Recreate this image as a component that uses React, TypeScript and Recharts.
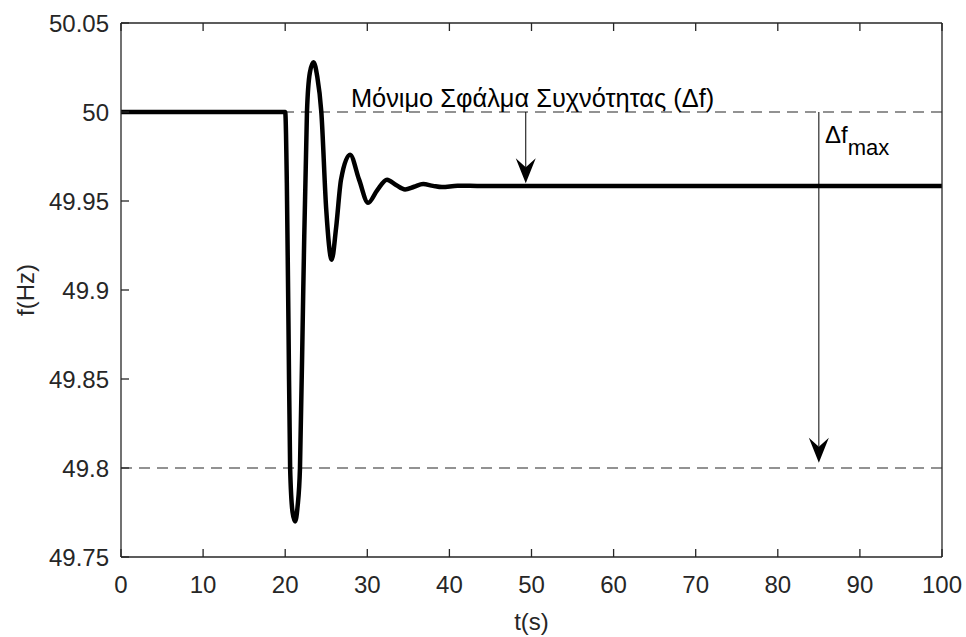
import React from 'react';
import { LineChart, Line, XAxis, YAxis, ReferenceLine, ReferenceDot, Label } from 'recharts';

// frequency response
const timeS = [
    0, 20, 20.2, 20.4, 20.6, 20.9, 21.2, 21.5, 21.8, 22.2, 22.65, 23.0, 23.45, 23.9, 24.4,
    25.0, 25.66, 26.2, 26.8, 27.9, 29.0, 30.1, 31.2, 32.4, 33.5, 34.6, 35.7, 36.8, 38.0,
    39.1, 41, 44, 100,
];
const freqHz = [
    50, 50, 49.96, 49.88, 49.8, 49.775, 49.77, 49.778, 49.8, 49.9, 50.0, 50.022, 50.028,
    50.02, 50.0, 49.945, 49.917, 49.935, 49.962, 49.976, 49.962, 49.949, 49.956, 49.962,
    49.959, 49.9565, 49.958, 49.9595, 49.9585, 49.9578, 49.9586, 49.9584, 49.9584,
];

const xTicks = [0, 10, 20, 30, 40, 50, 60, 70, 80, 90, 100];
const yTicks = [49.75, 49.8, 49.85, 49.9, 49.95, 50, 50.05];

const nominalF = 50;
const limitF = 49.8;
const steadyArrowT = 49.3;
const steadyArrowTip = 49.96;
const maxArrowT = 85;
const maxArrowTip = 49.803;

const data = timeS.map((t, i) => ({ t, f: freqHz[i] }));

const axisColor = '#262626';
const tickStyle = { fill: axisColor, fontSize: 24 };

const ArrowShape = (p: any) => {
    const { x1, y1, x2, y2 } = p;
    const len = 25;
    const half = 10;
    const notch = 9;
    return (
        <g>
            <line x1={x1} y1={y1} x2={x2} y2={y2 - len + notch} stroke="#000" strokeWidth={1} />
            <polygon
                points={`${x2},${y2} ${x2 - half},${y2 - len} ${x2},${y2 - len + notch} ${x2 + half},${y2 - len}`}
                fill="#000"
            />
        </g>
    );
};

const App: React.FC = () => {
    return (
        <div style={{ position: 'absolute', left: 0, top: 0, fontFamily: '"Liberation Sans", Arial, sans-serif' }}>
            <LineChart width={966} height={637} data={data} margin={{ top: 22, right: 23, left: 0, bottom: 0 }}>
                <XAxis
                    dataKey="t"
                    type="number"
                    domain={[0, 100]}
                    ticks={xTicks}
                    allowDataOverflow
                    height={80}
                    tickSize={-8}
                    tickMargin={27}
                    tick={tickStyle}
                    axisLine={{ stroke: axisColor, strokeWidth: 1.3 }}
                    tickLine={{ stroke: axisColor, strokeWidth: 1.3 }}
                >
                    <Label value="t(s)" position="insideBottom" offset={7} style={{ fill: axisColor, fontSize: 24 }} />
                </XAxis>
                <XAxis
                    xAxisId="top"
                    orientation="top"
                    dataKey="t"
                    type="number"
                    domain={[0, 100]}
                    ticks={xTicks}
                    height={1}
                    tickSize={-8}
                    tickFormatter={() => ''}
                    axisLine={{ stroke: axisColor, strokeWidth: 1.3 }}
                    tickLine={{ stroke: axisColor, strokeWidth: 1.3 }}
                />
                <YAxis
                    type="number"
                    domain={[49.75, 50.05]}
                    ticks={yTicks}
                    allowDataOverflow
                    width={121}
                    tickSize={-8}
                    tickMargin={20}
                    tick={tickStyle}
                    axisLine={{ stroke: axisColor, strokeWidth: 1.3 }}
                    tickLine={{ stroke: axisColor, strokeWidth: 1.3 }}
                >
                    <Label
                        value="f(Hz)"
                        angle={-90}
                        position="insideLeft"
                        offset={25}
                        style={{ fill: axisColor, fontSize: 24, textAnchor: 'middle' }}
                    />
                </YAxis>
                <YAxis
                    yAxisId="right"
                    orientation="right"
                    type="number"
                    domain={[49.75, 50.05]}
                    ticks={yTicks}
                    width={1}
                    tickSize={-8}
                    tickFormatter={() => ''}
                    axisLine={{ stroke: axisColor, strokeWidth: 1.3 }}
                    tickLine={{ stroke: axisColor, strokeWidth: 1.3 }}
                />
                <ReferenceLine y={nominalF} stroke="#262626" strokeWidth={1.1} strokeDasharray="11 7" />
                <ReferenceLine y={limitF} stroke="#262626" strokeWidth={1.1} strokeDasharray="11 7" />
                <Line
                    type="monotone"
                    dataKey="f"
                    stroke="#000"
                    strokeWidth={4.5}
                    dot={false}
                    isAnimationActive={false}
                />
                <ReferenceLine
                    segment={[{ x: steadyArrowT, y: nominalF }, { x: steadyArrowT, y: steadyArrowTip }]}
                    shape={ArrowShape}
                />
                <ReferenceLine
                    segment={[{ x: maxArrowT, y: nominalF }, { x: maxArrowT, y: maxArrowTip }]}
                    shape={ArrowShape}
                />
                <ReferenceDot
                    x={28}
                    y={50.003}
                    r={0}
                    shape={(p: any) => (
                        <text x={p.cx} y={p.cy} fontSize={25.4} fill="#000">
                            Μόνιμο Σφάλμα Συχνότητας (Δf)
                        </text>
                    )}
                />
                <ReferenceDot
                    x={85.75}
                    y={49.9828}
                    r={0}
                    shape={(p: any) => (
                        <text x={p.cx} y={p.cy} fontSize={24} fill="#000">
                            Δf
                            <tspan dy={12} fontSize={22}>max</tspan>
                        </text>
                    )}
                />
            </LineChart>
        </div>
    );
};

export default App;
